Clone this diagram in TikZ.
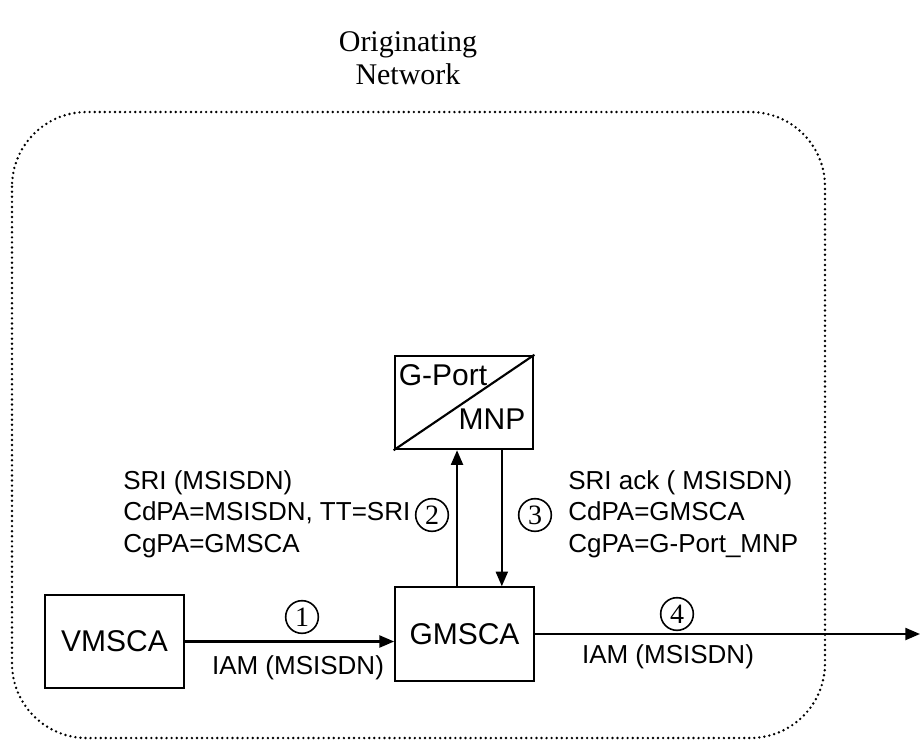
\documentclass[tikz,border=0pt]{standalone}
\usepackage{fontspec}
\setmainfont{Liberation Serif}
\setsansfont{Liberation Sans}
\usetikzlibrary{positioning,arrows.meta}
\tikzset{
  box/.style={draw, line width=1.6pt, minimum width=104pt, minimum height=70pt, font=\sffamily\fontsize{22.5}{27}\selectfont},
  boxtext/.style={inner sep=0pt, font=\sffamily\fontsize{22.5}{27}\selectfont},
  msg/.style={font=\sffamily\fontsize{19.5}{23.6}\selectfont, align=left, inner sep=0pt},
  num/.style={draw, circle, line width=1.2pt, minimum size=24.5pt, inner sep=0pt, font=\fontsize{21}{22}\selectfont},
  link/.style={line width=1.6pt, -{Triangle[length=11pt,width=9pt]}},
  frame/.style={line width=2pt, dash pattern=on 0pt off 3.8pt, line cap=round, rounded corners=56pt}
}
\begin{document}
\begin{tikzpicture}[x=0.75pt, y=-0.75pt]
  \useasboundingbox (0,0) rectangle (921,740);
  % network border and title
  \draw[frame] (12,112) rectangle (825,738);
  \node[align=center, font=\fontsize{22.5}{24.75}\selectfont] (title) at (408,58) {Originating\\Network};
  % switches
  \node[box] (vmsca) at (114.5,641.5) {VMSCA};
  \node[box] (gmsca) at (464.5,634) {GMSCA};
  \node[box] (gport) at (464,402.5) {};
  \draw[line width=1.6pt] (gport.south west) -- (gport.north east);
  \node[boxtext] (gp) at (443,375) {G-Port};
  \node[boxtext] (mnp) at (492,419) {MNP};
  % signalling
  \coordinate (out) at (920,634);
  \draw[link] (vmsca.east) -- (vmsca.east -| gmsca.west);
  \draw[link] ([xshift=-5.6pt]gmsca.north) -- ([xshift=-5.6pt]gmsca.north |- gport.south);
  \draw[link] ([xshift=28pt]gmsca.north |- gport.south) -- ([xshift=28pt]gmsca.north);
  \draw[link] (gmsca.east) -- (gmsca.east -| out);
  \foreach \n/\x/\y in {1/302/617, 2/432/515, 3/535/515, 4/677/614}
    \node[num] (n\n) at (\x,\y) {\n};
  \node[msg, anchor=west] (sri) at (123,514) {SRI (MSISDN)\\CdPA=MSISDN, TT=SRI\\CgPA=GMSCA};
  \node[msg, anchor=west] (ack) at (568,514) {SRI ack ( MSISDN)\\CdPA=GMSCA\\CgPA=G-Port\_MNP};
  \node[msg] (iam1) at (298,668) {IAM (MSISDN)};
  \node[msg] (iam2) at (668,657) {IAM (MSISDN)};
\end{tikzpicture}
\end{document}
